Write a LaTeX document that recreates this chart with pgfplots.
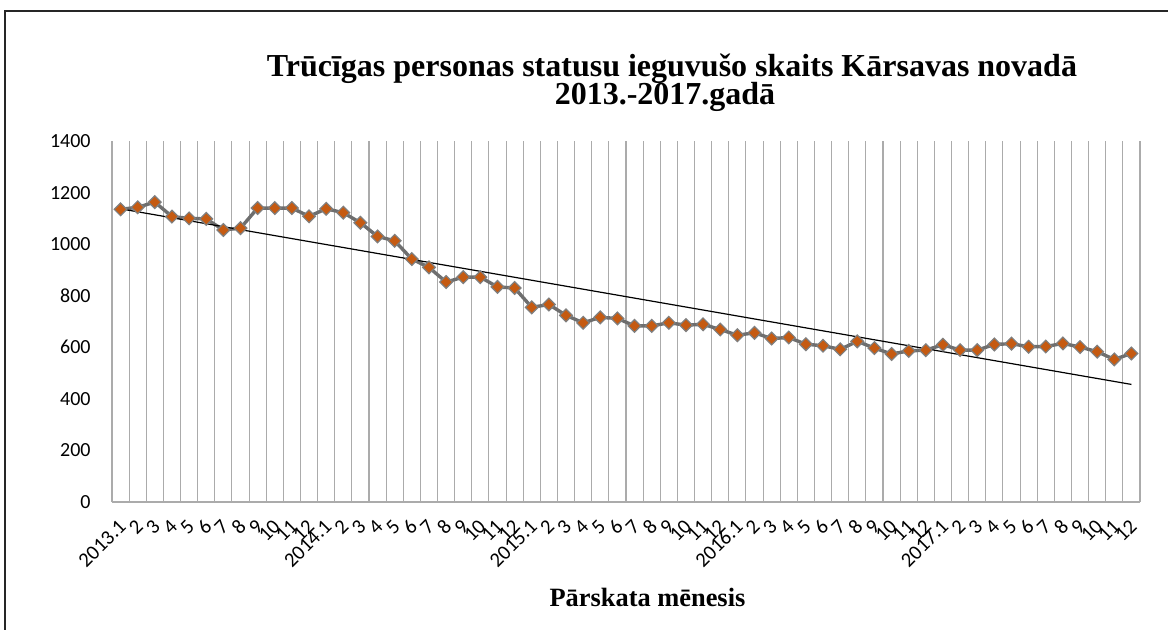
\documentclass[border=0pt]{standalone}
\usepackage{pgfplots}
\pgfplotsset{compat=1.18}
\usepackage{fontspec}
\setmainfont{Carlito}
\newfontfamily\tnr{Liberation Serif}
\definecolor{gridgray}{HTML}{ABABAB}
\definecolor{linegray}{HTML}{6E6E6E}
\definecolor{markfill}{HTML}{C55A11}
\definecolor{markedge}{HTML}{7F7F7F}
\begin{document}
\begin{tikzpicture}
\useasboundingbox (-56pt,-63.5pt) rectangle (528pt,251pt);
\draw[line width=1pt, black!85] (-53.5pt,-70pt) -- (-53.5pt,245.75pt) -- (540pt,245.75pt);
\begin{axis}[
  at={(0pt,0pt)}, anchor=south west,
  scale only axis, width=514pt, height=180.5pt,
  xmin=0.5, xmax=60.5, ymin=0, ymax=1400,
  axis x line*=bottom, axis y line*=left,
  x axis line style={draw=gridgray, line width=0.6pt, -},
  y axis line style={draw=none, -},
  xtick={1,...,60},
  xticklabels={2013.1,2,3,4,5,6,7,8,9,10,11,12,2014.1,2,3,4,5,6,7,8,9,10,11,12,2015.1,2,3,4,5,6,7,8,9,10,11,12,2016.1,2,3,4,5,6,7,8,9,10,11,12,2017.1,2,3,4,5,6,7,8,9,10,11,12},
  minor xtick={0.5,1.5,...,60.5},
  xminorgrids=true,
  minor grid style={draw=gridgray, line width=0.55pt},
  ytick={0,200,...,1400},
  major tick length=0pt, minor tick length=0pt,
  tick style={draw=none},
  /pgf/number format/assume math mode=true,
  /pgf/number format/1000 sep={},
  yticklabel style={font=\fontsize{10}{12}\selectfont, anchor=east, inner sep=0pt},
  yticklabel shift=10.5pt,
  xticklabel style={font=\fontsize{10.3}{12}\selectfont, rotate=45, anchor=east, inner sep=0pt, xshift=1.5pt},
  xticklabel shift=11.5pt,
  clip=false,
]
\addplot[color=linegray, line width=1.7pt, mark=square*, mark size=2.25pt,
  mark options={rotate=45, fill=markfill, draw=markedge, line width=0.6pt, solid}]
coordinates {
(1,1135) (2,1143) (3,1163) (4,1107) (5,1100) (6,1098) (7,1055) (8,1062) (9,1140) (10,1140) (11,1140) (12,1108)
(13,1137) (14,1122) (15,1083) (16,1030) (17,1013) (18,942) (19,910) (20,853) (21,872) (22,872) (23,834) (24,830)
(25,755) (26,766) (27,724) (28,695) (29,716) (30,712) (31,683) (32,683) (33,695) (34,686) (35,689) (36,669)
(37,647) (38,656) (39,634) (40,638) (41,612) (42,606) (43,592) (44,623) (45,597) (46,574) (47,586) (48,589)
(49,610) (50,589) (51,589) (52,611) (53,614) (54,602) (55,603) (56,615) (57,601) (58,583) (59,553) (60,576)
};
\addplot[black, line width=0.6pt, mark=none] coordinates {(1,1137) (60,456)};
\end{axis}
\node[anchor=base, font=\tnr\bfseries\fontsize{16}{18}\selectfont] at (280pt,213pt) {Trūcīgas personas statusu ieguvušo skaits Kārsavas novadā};
\node[anchor=base, font=\tnr\bfseries\fontsize{16}{18}\selectfont] at (276.5pt,199pt) {2013.-2017.gadā};
\node[anchor=base, font=\tnr\bfseries\fontsize{13.2}{15}\selectfont] at (267.75pt,-52pt) {Pārskata mēnesis};
\end{tikzpicture}
\end{document}
